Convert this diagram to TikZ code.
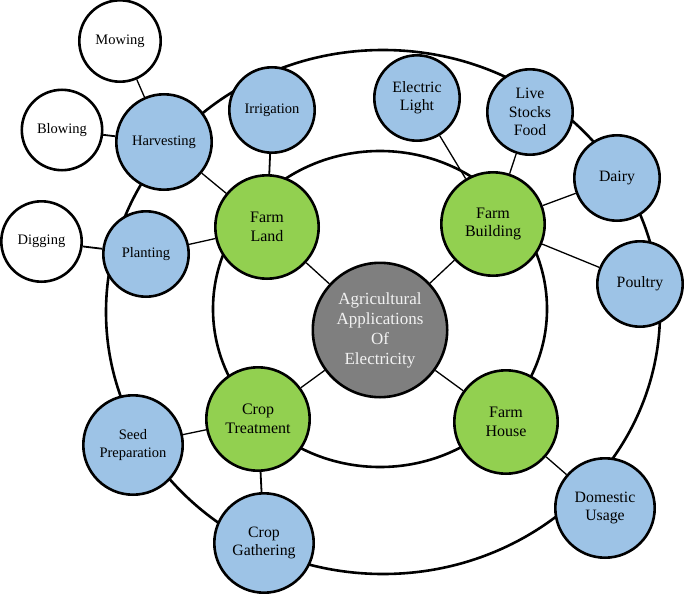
\documentclass[tikz,border=0pt]{standalone}
\usepackage{fontspec}
\setmainfont{Liberation Serif}
\definecolor{bluefill}{HTML}{9DC3E6}
\definecolor{greenfill}{HTML}{92D050}
\definecolor{grayfill}{HTML}{7F7F7F}
\definecolor{hubtext}{HTML}{F2F2F2}
\begin{document}
\begin{tikzpicture}[x=1pt,y=-1pt,
  base/.style={circle,draw=black,line width=2.6pt,inner sep=0pt,align=center,text=black},
  whitenode/.style={base,fill=white,minimum size=80.4pt,font=\fontsize{14.5}{17}\selectfont},
  bluesm/.style={base,fill=bluefill,minimum size=85.4pt,font=\fontsize{14.5}{17.5}\selectfont},
  bluelg/.style={base,fill=bluefill,minimum size=85.4pt,font=\fontsize{15.8}{18.3}\selectfont},
  greennode/.style={base,fill=greenfill,minimum size=103.4pt,font=\fontsize{16}{18.5}\selectfont},
  hub/.style={base,fill=grayfill,minimum size=134.4pt,text=hubtext,font=\fontsize{17}{20}\selectfont},
  ring/.style={line width=2.6pt},
  thinlink/.style={line width=1.3pt},
  midlink/.style={line width=1.8pt}]
\useasboundingbox (0,0) rectangle (685,594);

% rings
\draw[ring] (380,309) ellipse [x radius=167pt, y radius=158pt];
\draw[ring] (383,312) ellipse [x radius=277pt, y radius=262pt];

% hub
\node[hub] (hub) at (380,330) {Agricultural\\Applications\\Of\\Electricity};

% green nodes
\node[greennode] (farmland) at (267,227) {Farm\\Land};
\node[greennode] (farmbuilding) at (493,224) {Farm\\Building};
\node[greennode] (croptreat) at (258,419) {Crop\\Treatment};
\node[greennode] (farmhouse) at (506,422) {Farm\\House};

% blue nodes
\node[bluesm] (irrigation) at (272,110) {Irrigation};
\node[bluesm,minimum size=95.4pt] (harvesting) at (164,142) {Harvesting};
\node[bluesm] (planting) at (146,254) {Planting};
\node[bluesm,minimum size=99.4pt] (seedprep) at (133,445) {Seed\\Preparation};
\node[bluelg,minimum size=99.4pt] (cropgather) at (264,543) {Crop\\Gathering};
\node[bluelg] (electric) at (417,98) {Electric\\Light};
\node[bluelg] (livestock) at (530,112) {Live\\Stocks\\Food};
\node[bluelg] (dairy) at (617,178) {Dairy};
\node[bluelg] (poultry) at (640,284) {Poultry};
\node[bluelg,minimum size=99.4pt] (domestic) at (605,508) {Domestic\\Usage};

% white nodes
\node[whitenode,minimum size=81.4pt] (mowing) at (120,41) {Mowing};
\node[whitenode] (blowing) at (62,130) {Blowing};
\node[whitenode] (digging) at (41.5,241.5) {Digging};

% connectors
\draw[thinlink] (hub) -- (farmland);
\draw[thinlink] (hub) -- (farmbuilding);
\draw[thinlink] (hub) -- (croptreat);
\draw[thinlink] (hub) -- (farmhouse);
\draw[midlink] (farmland) -- (irrigation);
\draw[thinlink] (farmland) -- (harvesting);
\draw[thinlink] (farmland) -- (planting);
\draw[thinlink] (harvesting) -- (mowing);
\draw[midlink] (harvesting) -- (blowing);
\draw[midlink] (planting) -- (digging);
\draw[thinlink] (farmbuilding) -- (electric);
\draw[thinlink] (farmbuilding) -- (livestock);
\draw[thinlink] (farmbuilding) -- (dairy);
\draw[thinlink] (farmbuilding) -- (poultry);
\draw[thinlink] (croptreat) -- (seedprep);
\draw[midlink] (croptreat) -- (cropgather);
\draw[thinlink] (farmhouse) -- (domestic);
\end{tikzpicture}
\end{document}
